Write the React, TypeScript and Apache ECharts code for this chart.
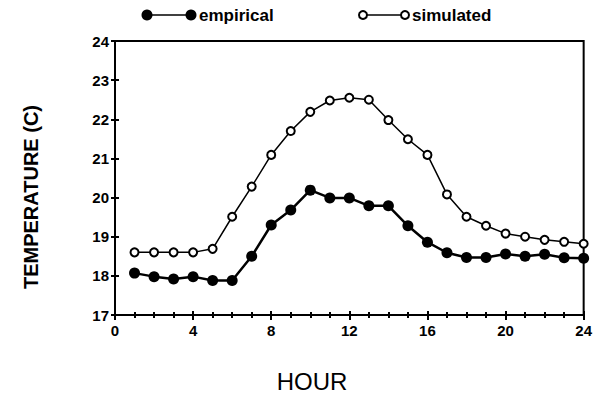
import React, { useEffect, useRef } from "react";
import * as echarts from "echarts";

const hours = [1, 2, 3, 4, 5, 6, 7, 8, 9, 10, 11, 12, 13, 14, 15, 16, 17, 18, 19, 20, 21, 22, 23, 24];
const empirical = [18.07, 17.98, 17.92, 17.98, 17.88, 17.88, 18.5, 19.3, 19.68, 20.19, 19.99, 19.99, 19.79, 19.79, 19.28, 18.86, 18.59, 18.47, 18.47, 18.56, 18.5, 18.55, 18.46, 18.45];
const simulated = [18.6, 18.6, 18.6, 18.6, 18.69, 19.51, 20.28, 21.09, 21.7, 22.19, 22.48, 22.55, 22.5, 21.98, 21.49, 21.09, 20.08, 19.51, 19.28, 19.08, 19.0, 18.92, 18.87, 18.82];
const seriesNames = ["empirical", "simulated"];
const xTitle = "HOUR";
const yTitle = "TEMPERATURE (C)";

const FONT = "'Liberation Sans', Arial, sans-serif";

export default function App() {
  const ref = useRef<HTMLDivElement>(null);
  useEffect(() => {
    if (!ref.current) return;
    const chart = echarts.init(ref.current, null, { renderer: "svg" });
    const axisLine = { show: true, lineStyle: { color: "#000", width: 2 } };
    const baseX = {
      type: "value",
      min: 0,
      max: 24,
      interval: 4,
      splitLine: { show: false },
      axisLine,
    };
    const baseY = {
      type: "value",
      min: 17,
      max: 24,
      interval: 1,
      splitLine: { show: false },
      axisLine,
    };
    chart.setOption({
      animation: false,
      backgroundColor: "#fff",
      grid: {
        left: 115,
        right: 5,
        top: 41,
        bottom: 78,
        show: true,
        borderColor: "#000",
        borderWidth: 2,
        backgroundColor: "transparent",
      },
      xAxis: [
        {
          ...baseX,
          position: "bottom",
          axisTick: { show: true, inside: false, length: 5, lineStyle: { color: "#000", width: 2 } },
          minorTick: { show: true, splitNumber: 4, length: 3, lineStyle: { color: "#000", width: 2 } },
          axisLabel: {
            show: true,
            margin: 8,
            color: "#000",
            fontFamily: FONT,
            fontWeight: "bold",
            fontSize: 15,
          },
        },
        {
          ...baseX,
          position: "bottom",
          axisTick: { show: true, inside: true, length: 4, lineStyle: { color: "#000", width: 2 } },
          minorTick: { show: true, splitNumber: 4, length: 3, lineStyle: { color: "#000", width: 2 } },
          axisLabel: { show: false },
        },
      ],
      yAxis: [
        {
          ...baseY,
          position: "left",
          axisTick: { show: true, inside: false, length: 4, lineStyle: { color: "#000", width: 2 } },
          axisLabel: {
            show: true,
            margin: 6,
            color: "#000",
            fontFamily: FONT,
            fontWeight: "bold",
            fontSize: 15,
          },
        },
        {
          ...baseY,
          position: "left",
          axisTick: { show: true, inside: true, length: 4, lineStyle: { color: "#000", width: 2 } },
          axisLabel: { show: false },
        },
      ],
      series: [
        {
          name: seriesNames[0],
          type: "line",
          xAxisIndex: 0,
          yAxisIndex: 0,
          data: hours.map((h, i) => [h, empirical[i]]),
          symbol: "circle",
          symbolSize: 11,
          itemStyle: { color: "#000", borderColor: "#000", borderWidth: 0 },
          lineStyle: { color: "#000", width: 2.5 },
          z: 3,
        },
        {
          name: seriesNames[1],
          type: "line",
          xAxisIndex: 0,
          yAxisIndex: 0,
          data: hours.map((h, i) => [h, simulated[i]]),
          symbol: "circle",
          symbolSize: 8,
          itemStyle: { color: "#fff", borderColor: "#000", borderWidth: 2 },
          lineStyle: { color: "#000", width: 1.5 },
          z: 3,
        },
      ],
      graphic: [
        { type: "line", shape: { x1: 147, y1: 15, x2: 191, y2: 15 }, style: { stroke: "#000", lineWidth: 1.5 } },
        { type: "circle", shape: { cx: 147, cy: 15, r: 5.5 }, style: { fill: "#000" } },
        { type: "circle", shape: { cx: 191, cy: 15, r: 5.5 }, style: { fill: "#000" } },
        {
          type: "text",
          x: 199,
          y: 15,
          style: {
            text: seriesNames[0],
            fill: "#000",
            font: `bold 17px ${FONT}`,
            verticalAlign: "middle",
            align: "left",
          },
        },
        { type: "line", shape: { x1: 363, y1: 15, x2: 405, y2: 15 }, style: { stroke: "#000", lineWidth: 1.5 } },
        { type: "circle", shape: { cx: 363, cy: 15, r: 4 }, style: { fill: "#fff", stroke: "#000", lineWidth: 2 } },
        { type: "circle", shape: { cx: 405, cy: 15, r: 4 }, style: { fill: "#fff", stroke: "#000", lineWidth: 2 } },
        {
          type: "text",
          x: 412,
          y: 15,
          style: {
            text: seriesNames[1],
            fill: "#000",
            font: `bold 17px ${FONT}`,
            verticalAlign: "middle",
            align: "left",
          },
        },
        {
          type: "text",
          x: 312,
          y: 381,
          style: {
            text: xTitle,
            fill: "#000",
            font: `24px ${FONT}`,
            align: "center",
            verticalAlign: "middle",
          },
        },
        {
          type: "text",
          x: 31,
          y: 197,
          rotation: Math.PI / 2,
          style: {
            text: yTitle,
            fill: "#000",
            font: `bold 20px ${FONT}`,
            align: "center",
            verticalAlign: "middle",
          },
        },
      ],
    });
    return () => chart.dispose();
  }, []);
  return (
    <div
      ref={ref}
      style={{ position: "fixed", left: 0, top: 0, width: 595, height: 393, background: "#fff" }}
    />
  );
}
